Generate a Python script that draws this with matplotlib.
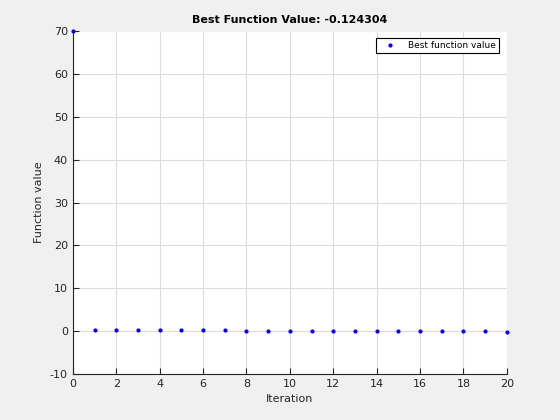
import numpy as np
import matplotlib.pyplot as plt

plt.rcParams['axes.unicode_minus'] = False

iterations = list(range(21))
best_values = [70.0, 0.35, 0.30, 0.25, 0.20, 0.18, 0.15, 0.12, 0.10, 0.08, 0.05,
               0.03, 0.02, 0.0, -0.02, -0.04, -0.06, -0.08, -0.10, -0.11, -0.124304]

fig = plt.figure(figsize=(5.6, 4.2), dpi=100, facecolor='#f0f0f0')
ax = fig.add_axes([0.13, 0.11, 0.775, 0.815])

ax.plot(iterations, best_values, '.', color='#0000ff', markersize=4,
        label='Best function value', clip_on=False, zorder=3)

ax.set_xlim(0, 20)
ax.set_ylim(-10, 70)
ax.set_xticks(range(0, 21, 2))
ax.set_yticks(range(-10, 71, 10))
ax.grid(True, color='#dcdcdc', linewidth=0.8)
ax.set_axisbelow(True)
for s in ['top', 'right']:
    ax.spines[s].set_visible(False)
for s in ['left', 'bottom']:
    ax.spines[s].set_color('#262626')
ax.tick_params(direction='in', labelsize=8, colors='#262626', length=4)

ax.set_xlabel('Iteration', fontsize=8, color='#262626')
ax.set_ylabel('Function value', fontsize=8, color='#262626')
ax.set_title('Best Function Value: -0.124304', fontsize=8, fontweight='bold')

leg = ax.legend(loc='upper right', fontsize=6.5, fancybox=False, framealpha=1,
                edgecolor='black', borderpad=0.3, handlelength=2.5,
                borderaxespad=0, bbox_to_anchor=(0.982, 0.98))
leg.get_frame().set_linewidth(0.8)

fig.savefig('out.png', dpi=100, facecolor=fig.get_facecolor())
